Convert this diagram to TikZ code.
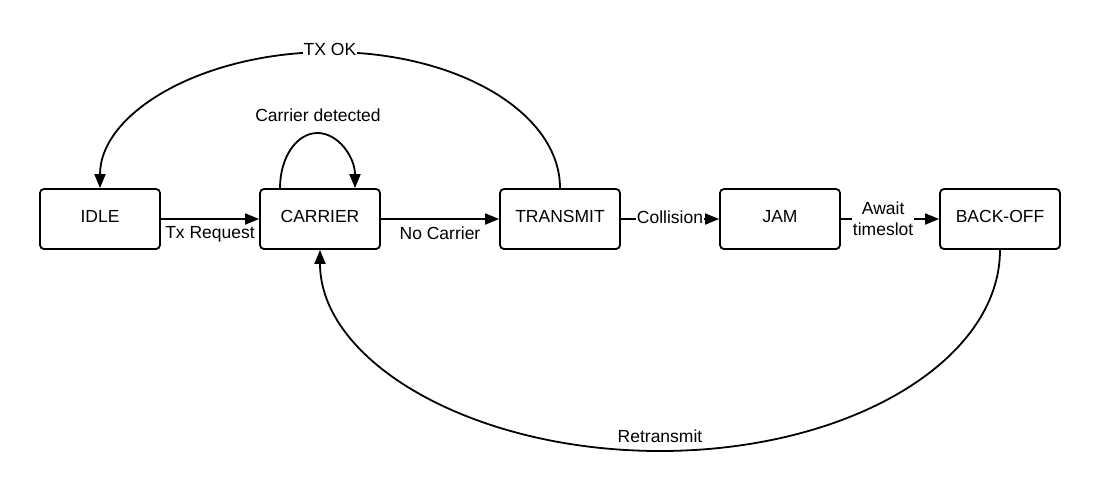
\documentclass[tikz,border=0pt]{standalone}
\usepackage{fontspec}
\setmainfont{Liberation Sans}
\usetikzlibrary{arrows.meta,calc}
\begin{document}
\begin{tikzpicture}[x=1pt,y=-1pt,
  every node/.style={font=\fontsize{17.5}{20.6}\selectfont},
  state/.style={draw, line width=1.8pt, rounded corners=4pt, minimum width=120pt, minimum height=60pt, inner sep=0pt, text height=12.5pt, text depth=5pt},
  lbl/.style={inner sep=1pt},
  arr/.style={line width=1.8pt, -{Triangle[length=14pt,width=11pt]}},
  conn/.style={line width=1.8pt}
]
\useasboundingbox[fill=white] (0,0) rectangle (1100,493);
\node[state] (idle) at (100,219) {IDLE};
\node[state] (carrier) at (320,219) {CARRIER};
\node[state] (transmit) at (560,219) {TRANSMIT};
\node[state] (jam) at (780,219) {JAM};
\node[state] (backoff) at (1000,219) {BACK-OFF};

\coordinate (txtop) at (330,52);
\coordinate (loopt) at (317.5,133);
\coordinate (rtbot) at (660,451);

% straight transitions
\draw[arr] (idle) -- node[lbl, below=6pt] {Tx Request} (carrier);
\draw[arr] (carrier) -- node[lbl, below=6pt] {No Carrier} (transmit);
\draw[arr] (transmit) -- node[lbl, fill=white, yshift=2pt] {Collision} (jam);
\draw[arr] (jam) -- node[lbl, fill=white, align=center, pos=0.43] {Await\\timeslot} (backoff);

% self loop
\draw[arr] ([xshift=-40pt]carrier.north) .. controls +(0,-31) and +(-20.7,0) .. (loopt)
  .. controls +(20.7,0) and +(0,-31) .. ([xshift=35pt]carrier.north);
\node[lbl] (cdet) at (318,115.5) {Carrier detected};

% TX OK arc
\draw[arr] (transmit.north) .. controls +(0,-75.7) and +(127,0) .. (txtop)
  node[lbl, fill=white, yshift=3pt] (txok) {TX OK}
  .. controls +(-127,0) and +(0,-75.7) .. (idle.north);

% Retransmit arc
\draw[arr] (backoff.south) .. controls +(0,111.6) and +(187.8,0) .. (rtbot)
  .. controls +(-187.8,0) and +(0,111.6) .. (carrier.south);
\node[lbl] (retx) at (660,436) {Retransmit};
\end{tikzpicture}
\end{document}
